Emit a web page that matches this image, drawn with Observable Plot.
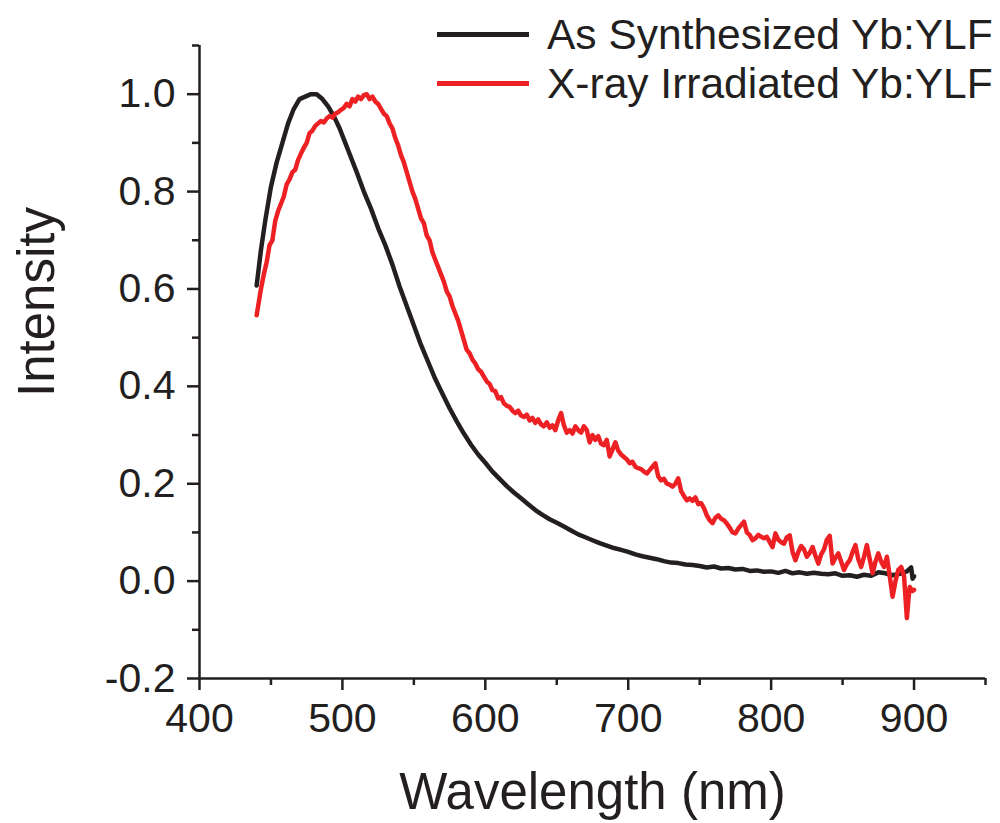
<!DOCTYPE html>
<html>
<head>
<meta charset="utf-8">
<script src="https://cdn.jsdelivr.net/npm/d3@7"></script>
<script src="https://cdn.jsdelivr.net/npm/@observablehq/plot@0.6"></script>
<style>
  html, body { margin: 0; padding: 0; background: #fff; }
  #wrap { position: relative; width: 1000px; height: 823px; font-family: "Liberation Sans", Arial, sans-serif; color: #231f20; }
  #legend { position: absolute; left: 437px; top: 10px; }
  .row { display: flex; align-items: center; height: 49px; white-space: nowrap; font-size: 42.5px; }
  .swatch { width: 92px; height: 5px; margin-right: 18px; }
</style>
</head>
<body>
<div id="wrap"><div id="legend"></div></div>
<script>
// ---- data ----
const seriesNames = ["As Synthesized Yb:YLF", "X-ray Irradiated Yb:YLF"];
const seriesColors = ["#231f20", "#ed2024"];

const asSynthWl = [440,443,446,450,454,458,462,466,470,474,478,482,486,490,494,498,502,506,510,515,520,525,530,535,540,545,550,555,560,565,570,575,580,585,590,595,600,605,610,615,620,625,630,635,640,645,650,655,660,665,670,675,680,685,690,695,700,705,710,715,720,725,730,735,740,745,750,755,760,765,770,775,780,785,790,795,800,805,810,815,820,825,830,835,840,845,850,855,860,865,870,875,880,885,890,895,898,899,900];
const asSynthI = [0.607,0.68,0.74,0.81,0.86,0.90,0.94,0.97,0.99,0.995,1.0,1.0,0.99,0.975,0.955,0.93,0.90,0.87,0.84,0.80,0.765,0.725,0.69,0.65,0.605,0.565,0.525,0.485,0.45,0.415,0.385,0.355,0.328,0.303,0.28,0.26,0.243,0.225,0.21,0.195,0.182,0.17,0.158,0.146,0.136,0.127,0.12,0.112,0.104,0.096,0.09,0.084,0.078,0.073,0.068,0.064,0.06,0.055,0.051,0.048,0.045,0.041,0.038,0.037,0.034,0.033,0.031,0.028,0.03,0.026,0.027,0.024,0.025,0.021,0.022,0.019,0.02,0.017,0.021,0.016,0.018,0.015,0.017,0.015,0.014,0.016,0.011,0.012,0.009,0.013,0.011,0.018,0.016,0.012,0.015,0.02,0.028,0.005,0.01];

const irradWl = [440,443,445,447,449,451,453,455,457,459,461,463,465,467,469,471,473,475,477,479,481,483,485,487,489,491,493,495,497,499,501,503,505,507,509,511,513,515,517,519,521,523,525,527,529,531,533,535,537,539,541,543,545,547,549,551,553,555,557,559,561,563,565,567,569,571,573,575,577,579,581,583,585,587,589,591,593,595,597,599,601,603,605,607,609,611,613,615,617,619,621,623,625,627,629,631,633,635,637,639,641,643,645,647,649,651,653,655,657,659,661,663,665,667,669,671,673,675,677,679,681,683,685,687,689,691,693,695,697,699,701,703,705,707,709,711,713,715,717,719,721,723,725,727,729,731,733,735,737,739,741,743,745,747,749,751,753,755,757,759,761,763,765,767,769,771,773,775,777,779,781,783,785,787,789,791,793,795,797,799,801,803,805,807,809,811,813,815,817,819,821,823,825,827,829,831,833,835,837,839,841,843,845,847,849,851,853,855,857,859,861,863,865,867,869,871,873,875,877,879,881,883,885,887,889,891,893,895,896,897,899,900];
const irradI = [0.546,0.60,0.63,0.655,0.69,0.70,0.74,0.76,0.775,0.79,0.815,0.825,0.84,0.845,0.865,0.878,0.89,0.90,0.92,0.925,0.935,0.94,0.945,0.942,0.95,0.955,0.952,0.96,0.963,0.968,0.972,0.98,0.975,0.99,0.985,0.995,0.99,0.998,1.0,0.99,0.995,0.985,0.98,0.97,0.96,0.955,0.94,0.93,0.91,0.895,0.875,0.86,0.84,0.82,0.80,0.785,0.765,0.745,0.735,0.71,0.70,0.675,0.66,0.645,0.63,0.615,0.595,0.585,0.565,0.55,0.535,0.515,0.495,0.475,0.468,0.455,0.447,0.435,0.43,0.42,0.41,0.405,0.392,0.39,0.375,0.378,0.365,0.36,0.358,0.35,0.345,0.35,0.34,0.337,0.342,0.33,0.335,0.325,0.332,0.322,0.318,0.326,0.315,0.32,0.31,0.33,0.345,0.32,0.305,0.31,0.303,0.318,0.31,0.305,0.318,0.31,0.285,0.30,0.29,0.298,0.282,0.279,0.29,0.256,0.27,0.285,0.268,0.26,0.255,0.25,0.242,0.245,0.235,0.232,0.23,0.225,0.221,0.228,0.235,0.242,0.215,0.207,0.21,0.20,0.198,0.194,0.20,0.211,0.185,0.175,0.166,0.17,0.165,0.172,0.158,0.16,0.15,0.135,0.125,0.119,0.13,0.135,0.128,0.125,0.118,0.11,0.10,0.098,0.108,0.115,0.122,0.10,0.095,0.084,0.088,0.095,0.091,0.088,0.091,0.08,0.07,0.098,0.085,0.08,0.077,0.09,0.094,0.06,0.043,0.06,0.072,0.065,0.05,0.058,0.07,0.052,0.036,0.055,0.065,0.085,0.093,0.036,0.048,0.057,0.04,0.023,0.035,0.043,0.06,0.074,0.045,0.029,0.05,0.074,0.045,0.016,0.04,0.057,0.04,0.029,0.05,0.01,-0.032,0.0,0.023,0.029,0.01,-0.076,-0.04,-0.012,-0.02,-0.018];

const xDomain = [400, 950];
const yDomain = [-0.2, 1.1];
const xMajorTicks = [400, 500, 600, 700, 800, 900];
const xMinorTicks = [450, 550, 650, 750, 850, 950];
const yMajorTicks = [-0.2, 0.0, 0.2, 0.4, 0.6, 0.8, 1.0];
const yMinorTicks = [-0.1, 0.1, 0.3, 0.5, 0.7, 0.9, 1.1];
const xLabel = "Wavelength (nm)";
const yLabel = "Intensity";

// ---- build rows ----
const rows = [];
asSynthWl.forEach((w, i) => rows.push({series: seriesNames[0], wl: w, v: asSynthI[i]}));
irradWl.forEach((w, i) => rows.push({series: seriesNames[1], wl: w, v: irradI[i]}));

const ink = "#231f20";
const font = "'Liberation Sans', Arial, sans-serif";

const chart = Plot.plot({
  width: 1000,
  height: 823,
  marginLeft: 199,
  marginRight: 15,
  marginTop: 45,
  marginBottom: 145,
  style: {fontFamily: font, color: ink, background: "transparent", overflow: "visible"},
  x: {domain: xDomain},
  y: {domain: yDomain},
  color: {domain: seriesNames, range: seriesColors},
  marks: [
    Plot.line(rows, {x: "wl", y: "v", z: "series", stroke: "series", strokeWidth: 4.5, strokeLinejoin: "round"}),
    Plot.ruleX([xDomain[0]], {stroke: ink, strokeWidth: 2.5}),
    Plot.ruleY([yDomain[0]], {stroke: ink, strokeWidth: 2.5}),
    Plot.axisX({ticks: xMajorTicks, tickSize: 12, tickPadding: 12, fontSize: 41, strokeWidth: 2.5, stroke: ink, fill: ink, label: null, tickFormat: d => String(d)}),
    Plot.axisX({ticks: xMinorTicks, tickSize: 7, strokeWidth: 2.5, stroke: ink, text: null, label: null}),
    Plot.axisY({ticks: yMajorTicks, tickSize: 12, tickPadding: 12, fontSize: 41, strokeWidth: 2.5, stroke: ink, fill: ink, label: null, tickFormat: d => d.toFixed(1)}),
    Plot.axisY({ticks: yMinorTicks, tickSize: 7, strokeWidth: 2.5, stroke: ink, text: null, label: null}),
    Plot.text([xLabel], {text: d => d, frameAnchor: "bottom", textAnchor: "middle", dy: 114, lineAnchor: "middle", fontSize: 51, fill: ink}),
    Plot.text([yLabel], {text: d => d, frameAnchor: "left", textAnchor: "middle", rotate: -90, dx: -162, dy: -60, lineAnchor: "middle", fontSize: 51, fill: ink})
  ]
});

const wrap = document.getElementById("wrap");
wrap.insertBefore(chart, wrap.firstChild);

const legend = document.getElementById("legend");
seriesNames.forEach((name, i) => {
  const row = document.createElement("div");
  row.className = "row";
  const sw = document.createElement("div");
  sw.className = "swatch";
  sw.style.background = seriesColors[i];
  const label = document.createElement("span");
  label.textContent = name;
  row.appendChild(sw);
  row.appendChild(label);
  legend.appendChild(row);
});
</script>
</body>
</html>
